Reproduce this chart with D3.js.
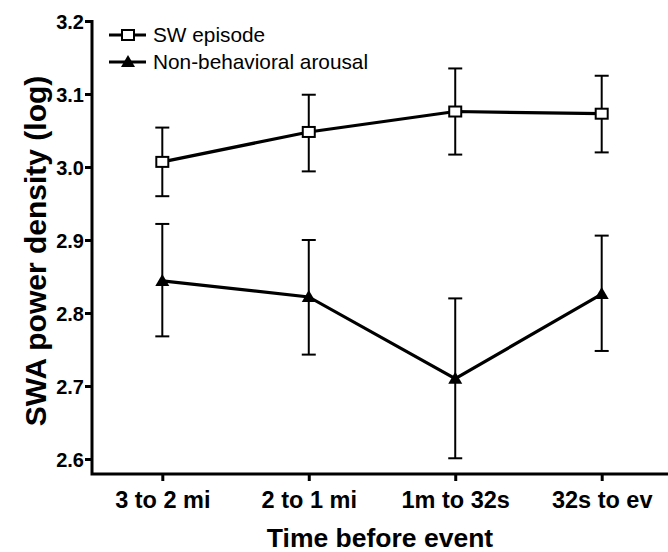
<!DOCTYPE html>
<html>
<head>
<meta charset="utf-8">
<script src="https://cdn.jsdelivr.net/npm/d3@7"></script>
<style>
  body { margin: 0; background: #fff; }
  svg { font-family: "Liberation Sans", Arial, sans-serif; }
</style>
</head>
<body>
<script>
// data
var categories = ["3 to 2 mi", "2 to 1 mi", "1m to 32s", "32s to ev"];
var swMean  = [3.007, 3.048, 3.076, 3.073];
var swLow   = [2.960, 2.994, 3.017, 3.020];
var swHigh  = [3.054, 3.099, 3.135, 3.125];
var nbMean  = [2.844, 2.822, 2.710, 2.826];
var nbLow   = [2.768, 2.743, 2.601, 2.748];
var nbHigh  = [2.922, 2.900, 2.820, 2.906];
var yTicks  = [2.6, 2.7, 2.8, 2.9, 3.0, 3.1, 3.2];
var seriesNames = ["SW episode", "Non-behavioral arousal"];

var width = 668, height = 552;

var svg = d3.select("body").append("svg")
    .attr("width", width)
    .attr("height", height);

var x = d3.scalePoint()
    .domain(categories)
    .range([92, 672])
    .padding(0.48);

var y = d3.scaleLinear()
    .domain([2.6, 3.2])
    .range([459, 21]);

var axisBottomY = 474;

// y axis
var yAxis = svg.append("g")
    .attr("transform", "translate(92,0)")
    .call(d3.axisLeft(y).tickValues(yTicks).tickFormat(d3.format(".1f")).tickSize(7).tickSizeOuter(0));
yAxis.select(".domain").remove();
yAxis.selectAll(".tick line").attr("stroke-width", 3).attr("stroke", "#000");
yAxis.selectAll(".tick text")
    .attr("font-size", 20).attr("font-weight", "bold")
    .attr("font-family", "Liberation Sans, Arial, sans-serif")
    .attr("x", -8).attr("dy", "0.36em");

// x axis
var xAxis = svg.append("g")
    .attr("transform", "translate(0," + axisBottomY + ")")
    .call(d3.axisBottom(x).tickSize(7).tickSizeOuter(0));
xAxis.select(".domain").remove();
xAxis.selectAll(".tick line").attr("stroke-width", 3).attr("stroke", "#000");
xAxis.selectAll(".tick text")
    .attr("font-size", 23.5).attr("font-weight", "bold")
    .attr("font-family", "Liberation Sans, Arial, sans-serif")
    .attr("y", 34).attr("dy", 0);

// axis frame lines
svg.append("path")
    .attr("d", "M92,20 L92," + axisBottomY + " L668," + axisBottomY)
    .attr("fill", "none")
    .attr("stroke", "#000")
    .attr("stroke-width", 3);

// axis titles
svg.append("text")
    .attr("transform", "translate(46,251) rotate(-90)")
    .attr("text-anchor", "middle")
    .attr("font-size", 30).attr("font-weight", "bold")
    .text("SWA power density (log)");

svg.append("text")
    .attr("x", 380).attr("y", 547)
    .attr("text-anchor", "middle")
    .attr("font-size", 26.5).attr("font-weight", "bold")
    .text("Time before event");

function drawSeries(mean, low, high, marker) {
  var g = svg.append("g");
  var idx = d3.range(categories.length);

  // error bars
  idx.forEach(function(i) {
    var cx = x(categories[i]);
    g.append("line")
      .attr("x1", cx).attr("x2", cx)
      .attr("y1", y(low[i])).attr("y2", y(high[i]))
      .attr("stroke", "#000").attr("stroke-width", 2);
    [low[i], high[i]].forEach(function(v) {
      g.append("line")
        .attr("x1", cx - 7).attr("x2", cx + 7)
        .attr("y1", y(v)).attr("y2", y(v))
        .attr("stroke", "#000").attr("stroke-width", 2);
    });
  });

  var line = d3.line()
    .x(function(i) { return x(categories[i]); })
    .y(function(i) { return y(mean[i]); });

  g.append("path")
    .attr("d", line(idx))
    .attr("fill", "none")
    .attr("stroke", "#000")
    .attr("stroke-width", 3.2);

  idx.forEach(function(i) {
    drawMarker(g, x(categories[i]), y(mean[i]), marker);
  });
}

function drawMarker(g, cx, cy, marker) {
  if (marker === "square") {
    g.append("rect")
      .attr("x", cx - 6).attr("y", cy - 5)
      .attr("width", 12).attr("height", 10)
      .attr("fill", "#fff").attr("stroke", "#000").attr("stroke-width", 2);
  } else {
    g.append("path")
      .attr("d", "M" + cx + "," + (cy - 7) + " L" + (cx + 7) + "," + (cy + 5) + " L" + (cx - 7) + "," + (cy + 5) + " Z")
      .attr("fill", "#000");
  }
}

drawSeries(swMean, swLow, swHigh, "square");
drawSeries(nbMean, nbLow, nbHigh, "triangle");

// legend
var legend = svg.append("g");
[["square", 35], ["triangle", 62]].forEach(function(d, i) {
  legend.append("line")
    .attr("x1", 109).attr("x2", 146)
    .attr("y1", d[1]).attr("y2", d[1])
    .attr("stroke", "#000").attr("stroke-width", 3);
  drawMarker(legend, 128, d[1], d[0]);
  legend.append("text")
    .attr("x", 153).attr("y", d[1] + 7)
    .attr("font-size", 20.8)
    .text(seriesNames[i]);
});
</script>
</body>
</html>
